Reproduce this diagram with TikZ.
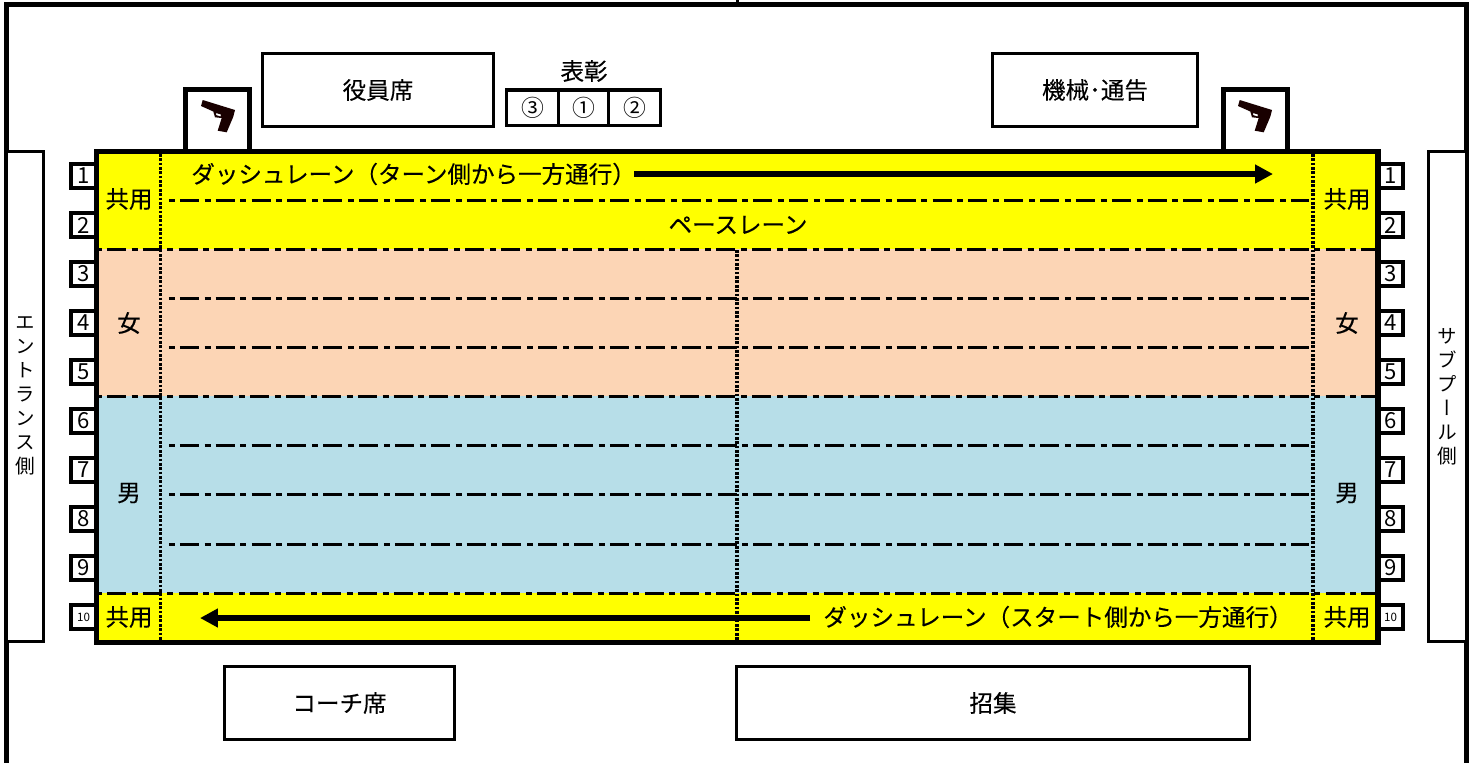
\documentclass[tikz,border=0pt]{standalone}
\usepackage{fontspec}
\setmainfont{Noto Sans CJK JP}
\newfontfamily\sidefont[RawFeature={+vert}]{Noto Sans CJK JP}
\newfontfamily\labelfont[FakeBold=0.25]{Noto Sans CJK JP}
\usetikzlibrary{arrows.meta}
\def\pxu{0.02cm}
\definecolor{peach}{HTML}{FCD5B5}
\definecolor{lightlane}{HTML}{B7DEE8}
\definecolor{laneyellow}{HTML}{FFFF00}
\tikzset{
	seat/.style 2 args={draw, line width=3.6*\pxu, fill=white, minimum width=#1*\pxu, minimum height=#2*\pxu, inner sep=0pt},
	lanelabel/.style={font=\labelfont\fontsize{13.4}{15}\selectfont, inner sep=0pt},
	sidelabel/.style={font=\sidefont\fontsize{11.2}{13.66}\selectfont, align=center, inner sep=0pt},
	lanenum/.style={seat={25}{24}, line width=3.2*\pxu, font=\fontsize{12.6}{14}\selectfont},
	podium/.style={seat={51.5}{35.5}, line width=3.2*\pxu, font=\fontsize{13}{15}\selectfont},
	laneline/.style={line width=3*\pxu, dash pattern=on 0.38cm off 0.115cm on 0.12cm off 0.102cm},
	dotline/.style={line width=3.3*\pxu, dash pattern=on 2.7*\pxu off 1.65*\pxu},
	bigarrow/.style={line width=6*\pxu, -{Triangle[length=0.36cm, width=0.36cm]}}
}
\begin{document}
\begin{tikzpicture}[x=\pxu, y=-\pxu]
	\useasboundingbox (0, 0) rectangle (1477, 762);

	% outer wall
	\draw[line width=5*\pxu, line join=miter] (6.3, 770) -- (6.3, 4.5) -- (1466.5, 4.5) -- (1466.5, 770);
	\draw[line width=3*\pxu] (737, 0) -- (737, 4);

	% sides
	\node[seat={37.5}{490}, line width=3*\pxu] (sideL) at (25, 396.5) {};
	\node[seat={38}{490}, line width=3*\pxu] (sideR) at (1447.5, 396.5) {};
	\node[sidelabel] (sideLtext) at (25, 395.5) {エ\\ン\\ト\\ラ\\ン\\ス\\側};
	\node[sidelabel] (sideRtext) at (1447.5, 396.5) {サ\\ブ\\プ\\ー\\ル\\側};

	% seats
	\node[seat={231}{73}, lanelabel] (yakuin) at (378, 90) {役員席};
	\node[seat={205}{73}, lanelabel] (kikai) at (1095, 90) {機械･通告};
	\node[seat={230}{73}, lanelabel] (coach) at (339.5, 703) {コーチ席};
	\node[seat={513}{73}, lanelabel] (shoshu) at (993, 703) {招集};
	\node[lanelabel] (hyosho) at (584, 71) {表彰};
	\node[podium] (third) at (532.5, 107.8) {③};
	\node[podium] (first) at (584, 107.8) {①};
	\node[podium] (second) at (634.5, 107.8) {②};

	% starter boxes and pistols
	\node[seat={64}{70}, line width=4.4*\pxu] (gunL) at (217.5, 124.5) {};
	\node[seat={64}{70}, line width=4.4*\pxu] (gunR) at (1255.5, 124.5) {};
	\foreach \gunx in {0, 1037} {
		\fill[black!90!red, even odd rule, xshift=\gunx*\pxu] (202.7, 100) -- (235, 110) -- (233.3, 116.7) -- (226.7, 132.3) -- (217.7, 130.7) -- (221.7, 118) -- (215, 117.3) -- (213.3, 111.5) -- (201, 106) -- cycle (216, 113) -- (221, 114.5) -- (220.5, 116.5) -- (216, 115) -- cycle;
	}

	% lane numbers
	\foreach \i in {1, ..., 9} {
		\node[lanenum] (numL\i) at (83.5, 176+49*\i-49) {\i};
		\node[lanenum] (numR\i) at (1390.5, 176+49*\i-49) {\i};
	}
	\node[lanenum, font=\fontsize{6.6}{8}\selectfont] (numL10) at (83.5, 617) {10};
	\node[lanenum, font=\fontsize{6.6}{8}\selectfont] (numR10) at (1390.5, 617) {10};

	% water
	\fill[laneyellow] (96, 151) rectangle (1378, 249);
	\fill[peach] (96, 249) rectangle (1378, 396);
	\fill[lightlane] (96, 396) rectangle (1378, 593);
	\fill[laneyellow] (96, 593) rectangle (1378, 642);

	% lane ropes
	\foreach \y in {200, 298, 347, 445, 494, 544} {
		\draw[laneline, dash phase=0.38cm] (163, \y) -- (1309, \y);
	}
	\foreach \y in {249, 396, 593} {
		\draw[laneline, dash phase=0.56cm] (99, \y) -- (1376, \y);
	}
	\draw[dotline] (160.5, 154) -- (160.5, 640);
	\draw[dotline] (1313, 154) -- (1313, 640);
	\draw[dotline] (737, 250) -- (737, 640);

	% pool edge
	\draw[line width=5.4*\pxu, line join=miter] (96.5, 151.5) rectangle (1378, 642.5);

	% labels
	\foreach \x in {129, 1347} {
		\node[lanelabel] at (\x, 199) {共用};
		\node[lanelabel] at (\x, 323) {女};
		\node[lanelabel] at (\x, 493) {男};
		\node[lanelabel] at (\x, 617) {共用};
	}
	\node[lanelabel, anchor=west] (dashT) at (191, 174) {ダッシュレーン（ターン側から一方通行）};
	\node[lanelabel] (pace) at (738, 225) {ペースレーン};
	\node[lanelabel, anchor=east] (dashB) at (1293, 617) {ダッシュレーン（スタート側から一方通行）};

	% arrows
	\coordinate (dashTend) at (1273, 174);
	\coordinate (dashBend) at (200, 618);
	\coordinate (dashTstart) at (634, 174);
	\coordinate (dashBstart) at (810, 618);
	\draw[bigarrow] (dashTstart) -- (dashTend);
	\draw[bigarrow] (dashBstart) -- (dashBend);
\end{tikzpicture}
\end{document}
